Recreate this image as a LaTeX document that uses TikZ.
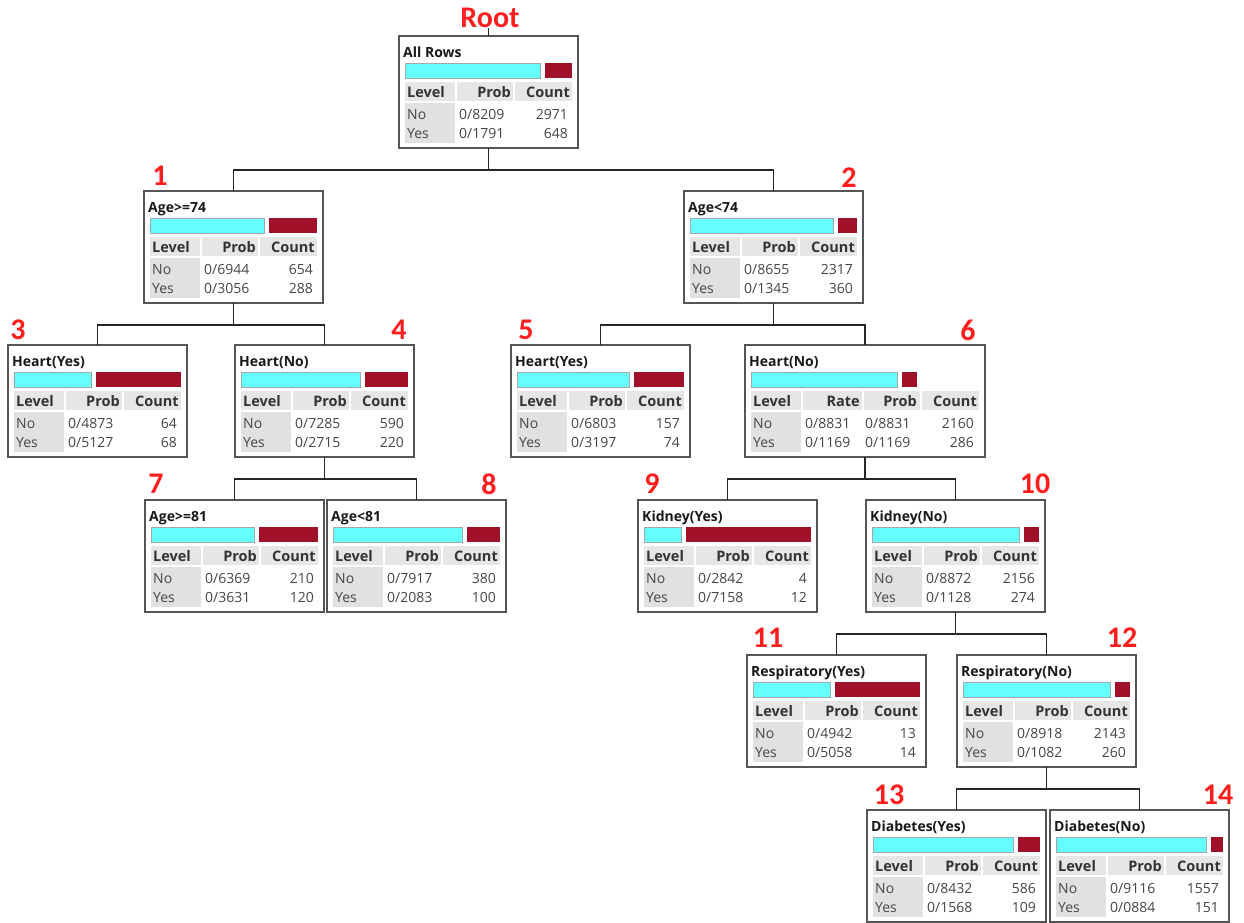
\documentclass[tikz,border=0pt]{standalone}
\usepackage{fontspec}
\setmainfont{Open Sans}
\newfontfamily\lblfont{Carlito}
\definecolor{barcyan}{RGB}{102,255,255}
\definecolor{barred}{RGB}{160,16,40}
\definecolor{hdrgray}{RGB}{230,230,230}
\definecolor{lvlgray}{RGB}{225,225,225}
\definecolor{boxborder}{RGB}{85,85,85}
\definecolor{numred}{RGB}{255,30,30}
\definecolor{datatext}{RGB}{70,70,70}
\tikzset{
 tbox/.style={draw=boxborder, line width=1.6pt, fill=white, inner sep=0pt, outer sep=0pt, anchor=north west},
 conn/.style={draw=black!85, line width=1.3pt},
 cyanbar/.style={fill=barcyan, draw=black!35, line width=0.6pt},
 ttl/.style={font=\fontsize{14}{16}\selectfont\bfseries, text=black!90, inner sep=0pt, anchor=base west},
 hdr/.style={font=\fontsize{14.5}{16}\selectfont\bfseries, text=black!80, inner sep=0pt},
 dat/.style={font=\fontsize{14}{16}\selectfont, text=datatext, inner sep=0pt},
 num/.style={font=\lblfont\fontsize{30}{32}\selectfont\bfseries, text=numred, inner sep=0pt},
}
\newcommand\treebox[9]{%
\begin{scope}[shift={(#2,#3)}]
\node[tbox, minimum width=179pt, minimum height=112pt] (#1) at (0,0) {};
\path[cyanbar] (6,27) rectangle ++(#5,15);
\fill[barred] ({6+#5+5},27) rectangle (173,42);
\fill[hdrgray] (6,46) rectangle (56,65);
\fill[hdrgray] (58,46) rectangle (114,65);
\fill[hdrgray] (116,46) rectangle (173,65);
\fill[lvlgray] (6,67) rectangle (56,107);
\node[ttl] (#1-t) at (4,21) {#4};
\node[hdr, anchor=base west] (#1-h1) at (8,61) {Level};
\node[hdr, anchor=base east] (#1-h2) at (112,61) {Prob};
\node[hdr, anchor=base east] (#1-h3) at (171,61) {Count};
\node[dat, anchor=base west] (#1-a1) at (8,83) {No};
\node[dat, anchor=base west] (#1-a2) at (60,83) {#6};
\node[dat, anchor=base east] (#1-a3) at (169,83) {#7};
\node[dat, anchor=base west] (#1-b1) at (8,102) {Yes};
\node[dat, anchor=base west] (#1-b2) at (60,102) {#8};
\node[dat, anchor=base east] (#1-b3) at (169,102) {#9};
\end{scope}}
\begin{document}
\begin{tikzpicture}[x=1pt,y=-1pt]
\fill[white] (0,0) rectangle (1244,922);
\useasboundingbox (0,0) rectangle (1244,922);
% boxes
\treebox{root}{399}{36}{All Rows}{135}{0/8209}{2971}{0/1791}{648}
\treebox{n1}{144}{191}{Age>=74}{114}{0/6944}{654}{0/3056}{288}
\treebox{n2}{684}{191}{Age<74}{143}{0/8655}{2317}{0/1345}{360}
\treebox{n3}{8}{345}{Heart(Yes)}{77}{0/4873}{64}{0/5127}{68}
\treebox{n4}{235}{345}{Heart(No)}{119}{0/7285}{590}{0/2715}{220}
\treebox{n5}{511}{345}{Heart(Yes)}{112}{0/6803}{157}{0/3197}{74}
\treebox{n7}{145}{500}{Age>=81}{103}{0/6369}{210}{0/3631}{120}
\treebox{n8}{327}{500}{Age<81}{129}{0/7917}{380}{0/2083}{100}
\treebox{n9}{638}{500}{Kidney(Yes)}{37}{0/2842}{4}{0/7158}{12}
\treebox{n10}{866}{500}{Kidney(No)}{147}{0/8872}{2156}{0/1128}{274}
\treebox{n11}{747}{655}{Respiratory(Yes)}{77}{0/4942}{13}{0/5058}{14}
\treebox{n12}{957}{655}{Respiratory(No)}{147}{0/8918}{2143}{0/1082}{260}
\treebox{n13}{867}{810}{Diabetes(Yes)}{140}{0/8432}{586}{0/1568}{109}
\treebox{n14}{1050}{810}{Diabetes(No)}{150}{0/9116}{1557}{0/0884}{151}
% node 6 (four columns)
\begin{scope}[shift={(745,345)}]
\node[tbox, minimum width=240pt, minimum height=112pt] (n6) at (0,0) {};
\path[cyanbar] (6,27) rectangle ++(146,15);
\fill[barred] (157,27) rectangle (172,42);
\fill[hdrgray] (6,46) rectangle (56,65);
\fill[hdrgray] (58,46) rectangle (117,65);
\fill[hdrgray] (119,46) rectangle (175,65);
\fill[hdrgray] (177,46) rectangle (234,65);
\fill[lvlgray] (6,67) rectangle (56,107);
\node[ttl] (n6-t) at (4,21) {Heart(No)};
\node[hdr, anchor=base west] (n6-h1) at (8,61) {Level};
\node[hdr, anchor=base east] (n6-h2) at (115,61) {Rate};
\node[hdr, anchor=base east] (n6-h3) at (172,61) {Prob};
\node[hdr, anchor=base east] (n6-h4) at (232,61) {Count};
\node[dat, anchor=base west] (n6-a1) at (8,83) {No};
\node[dat, anchor=base west] (n6-a2) at (60,83) {0/8831};
\node[dat, anchor=base west] (n6-a3) at (120,83) {0/8831};
\node[dat, anchor=base east] (n6-a4) at (229,83) {2160};
\node[dat, anchor=base west] (n6-b1) at (8,102) {Yes};
\node[dat, anchor=base west] (n6-b2) at (60,102) {0/1169};
\node[dat, anchor=base west] (n6-b3) at (120,102) {0/1169};
\node[dat, anchor=base east] (n6-b4) at (229,102) {286};
\end{scope}
% labels
\node[num] (lroot) at (490,18) {Root};
\node[num] (l1) at (160,176) {1};
\node[num] (l2) at (849,178) {2};
\node[num] (l3) at (18,330) {3};
\node[num] (l4) at (399,330) {4};
\node[num] (l5) at (526,330) {5};
\node[num] (l6) at (968,330) {6};
\node[num] (l7) at (156,484) {7};
\node[num] (l8) at (489,484) {8};
\node[num] (l9) at (652,484) {9};
\node[num] (l10) at (1035,484) {10};
\node[num] (l11) at (768,638) {11};
\node[num] (l12) at (1122,638) {12};
\node[num] (l13) at (889,795) {13};
\node[num] (l14) at (1218,795) {14};
% connectors
\draw[conn] (root.north) -- (root.north |- lroot.south);
\draw[conn] (root.south) -- ++(0,22) -| (n1.north);
\draw[conn] (root.south) -- ++(0,22) -| (n2.north);
\draw[conn] (n1.south) -- ++(0,22) -| (n3.north);
\draw[conn] (n1.south) -- ++(0,22) -| (n4.north);
\draw[conn] (n2.south) -- ++(0,22) -| (n5.north);
\draw[conn] (n2.south) -- ++(0,22) -| (n6.north);
\draw[conn] (n4.south) -- ++(0,22) -| (n7.north);
\draw[conn] (n4.south) -- ++(0,22) -| (n8.north);
\draw[conn] (n6.south) -- ++(0,22) -| (n9.north);
\draw[conn] (n6.south) -- ++(0,22) -| (n10.north);
\draw[conn] (n10.south) -- ++(0,22) -| (n11.north);
\draw[conn] (n10.south) -- ++(0,22) -| (n12.north);
\draw[conn] (n12.south) -- ++(0,22) -| (n13.north);
\draw[conn] (n12.south) -- ++(0,22) -| (n14.north);
\end{tikzpicture}
\end{document}
